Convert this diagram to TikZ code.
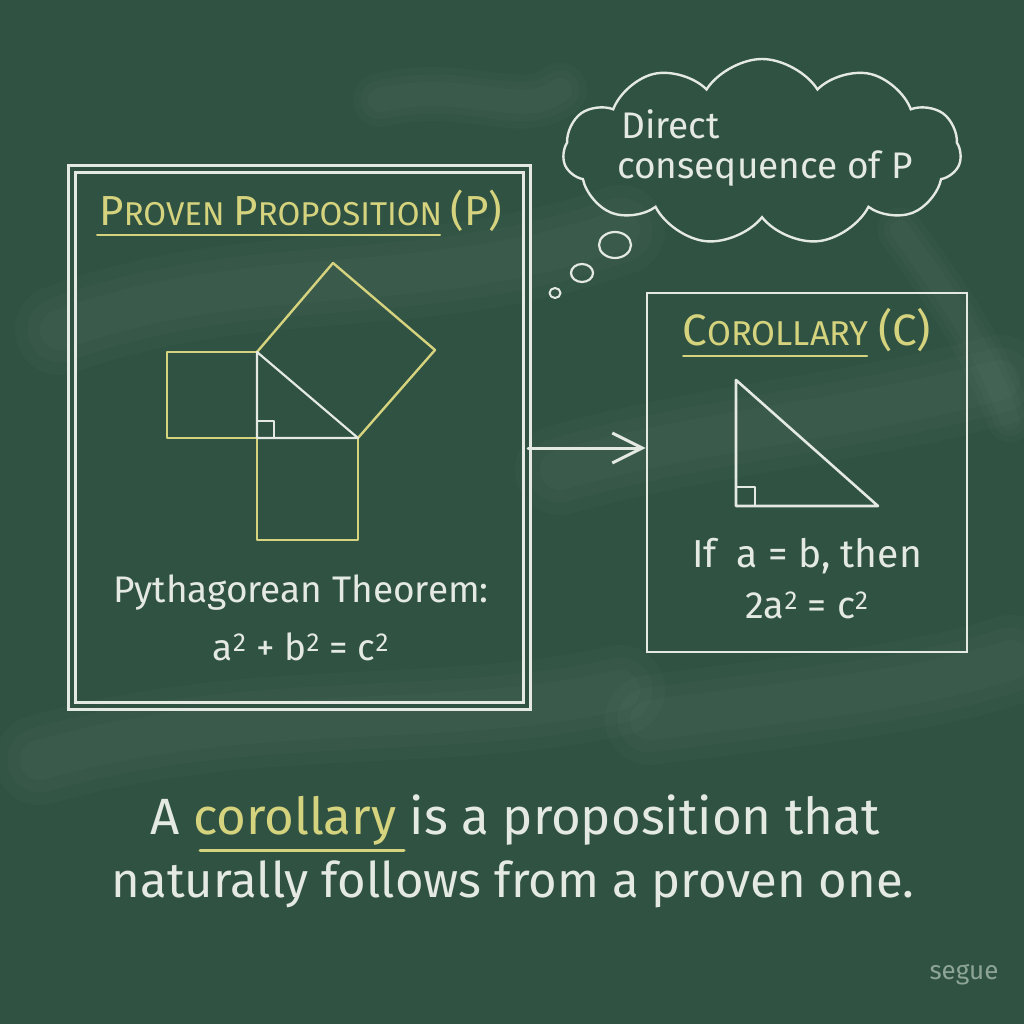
\documentclass[tikz,border=0pt]{standalone}
\usepackage{fontspec}
\setmainfont{Fira Sans}
\usetikzlibrary{shapes.symbols,arrows.meta,calc}
\definecolor{board}{HTML}{2F5242}
\definecolor{chalk}{HTML}{E4E9E2}
\definecolor{chalky}{HTML}{D6D37E}
\definecolor{faint}{HTML}{8EA596}
\newcommand{\scp}[2]{{\fontsize{42}{42}\selectfont #1}{\fontsize{33}{33}\selectfont #2}}
\newcommand{\scq}[2]{{\fontsize{44}{44}\selectfont #1}{\fontsize{34.5}{34.5}\selectfont #2}}
\newcommand{\sqr}{\textsuperscript{\fontsize{26}{26}\selectfont 2}}
\begin{document}
\begin{tikzpicture}[x=1pt,y=-1pt,
  chalkline/.style={draw=chalk,line width=2.6pt,line join=round,line cap=round},
  yline/.style={draw=chalky,line width=2.4pt,line join=round,line cap=round},
  smudge/.style={white,opacity=0.018,line cap=round},
  ctext/.style={text=chalk,inner sep=0pt},
  ytext/.style={text=chalky,inner sep=0pt,font=\fontsize{33}{33}\selectfont}]
\useasboundingbox (0,0) rectangle (1024,1024);
\fill[board] (0,0) rectangle (1024,1024);
% chalk smudges (soft, layered)
\foreach \w in {40,65,90} {
  \draw[smudge,line width=\w pt] (60,330) .. controls (250,260) and (420,300) .. (620,230);
  \draw[smudge,line width=\w pt] (560,470) .. controls (700,430) and (850,420) .. (1000,380);
  \draw[smudge,line width=\w pt] (40,760) .. controls (250,700) and (450,730) .. (620,690);
  \draw[smudge,line width=\w pt] (650,720) .. controls (800,700) and (920,690) .. (1010,660);
  \draw[smudge,line width=0.6*\w pt] (380,100) .. controls (470,80) and (520,120) .. (560,90);
  \draw[smudge,line width=0.5*\w pt] (900,230) .. controls (950,300) and (980,340) .. (1010,420);
}

% left box (P)
\node[draw=chalk,double=board,double distance=4.5pt,line width=2.4pt,
  minimum width=455pt,minimum height=537pt,inner sep=0pt] (P) at (299.5,437.5) {};
\node[ytext] (Ptitle) at (301,211) {\scp{P}{ROVEN} \scp{P}{ROPOSITION} \scp{(P)}{}};
\coordinate (PulA) at (97,235);
\coordinate (PulB) at (440,235);
\draw[yline,line width=2pt] (PulA) -- (PulB);

% pythagorean figure
\coordinate (R) at (257,438);
\coordinate (A) at (257,352);
\coordinate (B) at (358,438);
\draw[yline] (A) -- (167,352) -- (167,438) -- (R);
\draw[yline] (R) -- (257,540) -- (358,540) -- (B);
\draw[yline] (A) -- (333,263) -- (435,350) -- (B);
\draw[chalkline,line width=2.2pt] (A) -- (R) -- (B) -- cycle;
\draw[chalkline,line width=1.6pt] (257,421) -- (274,421) -- (274,438);

\node[ctext,font=\fontsize{37}{37}\selectfont] (Pyth) at (301,593) {Pythagorean Theorem:};
\node[ctext,font=\fontsize{37}{37}\selectfont] (Peq) at (301,647) {a\sqr\ + b\sqr\ = c\sqr};

% right box (C)
\node[draw=chalk,line width=2.8pt,minimum width=320pt,minimum height=359pt,inner sep=0pt] (C) at (807,472.5) {};
\node[ytext,font=\fontsize{34.5}{34.5}\selectfont] (Ctitle) at (807,330) {\scq{C}{OROLLARY} \scq{(C)}{}};
\coordinate (CulA) at (683,356);
\coordinate (CulB) at (867,356);
\draw[yline,line width=2pt] (CulA) -- (CulB);
\coordinate (T1) at (736,380);
\coordinate (T2) at (736,506);
\coordinate (T3) at (878,506);
\draw[chalkline] (T1) -- (T2) -- (T3) -- cycle;
\draw[chalkline,line width=1.6pt] (736,487) -- (755,487) -- (755,506);
\node[ctext,font=\fontsize{39}{39}\selectfont] (Cif) at (807,556) {If\hspace{10pt} a = b, then};
\node[ctext,font=\fontsize{38}{38}\selectfont] (Ceq) at (807,605) {2a\sqr\ = c\sqr};

% arrow
\draw[chalkline,line width=3pt,-{Straight Barb[length=30pt,width=30pt,line width=3pt]}]
  ([yshift=-10.5pt]P.east) -- ([yshift=-10.5pt]P.east -| C.west);

% thought cloud
\node[cloud,draw=chalk,line width=2.4pt,cloud puffs=11,cloud puff arc=115,aspect=2.2,
  minimum width=398pt,minimum height=186pt,inner sep=0pt] (cloud) at (762,152) {};
\node[ctext,font=\fontsize{37}{37}\selectfont,anchor=west] (Dir) at (621,124) {Direct};
\node[ctext,font=\fontsize{37}{37}\selectfont,anchor=west] (Dcons) at (617,169) {consequence of P};
\draw[chalkline,line width=2.2pt] (615,245) ellipse [x radius=16pt,y radius=13pt];
\draw[chalkline,line width=2.2pt] (582,273) ellipse [x radius=11pt,y radius=9pt];
\draw[chalkline,line width=2pt] (555,293) ellipse [x radius=5.5pt,y radius=5pt];

% bottom text
\node[ctext,font=\fontsize{51}{51}\selectfont] (L1) at (515,820) {A \textcolor{chalky}{corollary} is a proposition that};
\node[ctext,font=\fontsize{49}{49}\selectfont] (L2) at (513,884) {naturally follows from a proven one.};
\coordinate (UlA) at (200,850);
\coordinate (UlB) at (404,850);
\draw[yline,line width=3pt] (UlA) -- (UlB);

\node[text=faint,inner sep=0pt,font=\fontsize{26}{26}\selectfont] (sig) at (964,975) {segue};
\end{tikzpicture}
\end{document}
